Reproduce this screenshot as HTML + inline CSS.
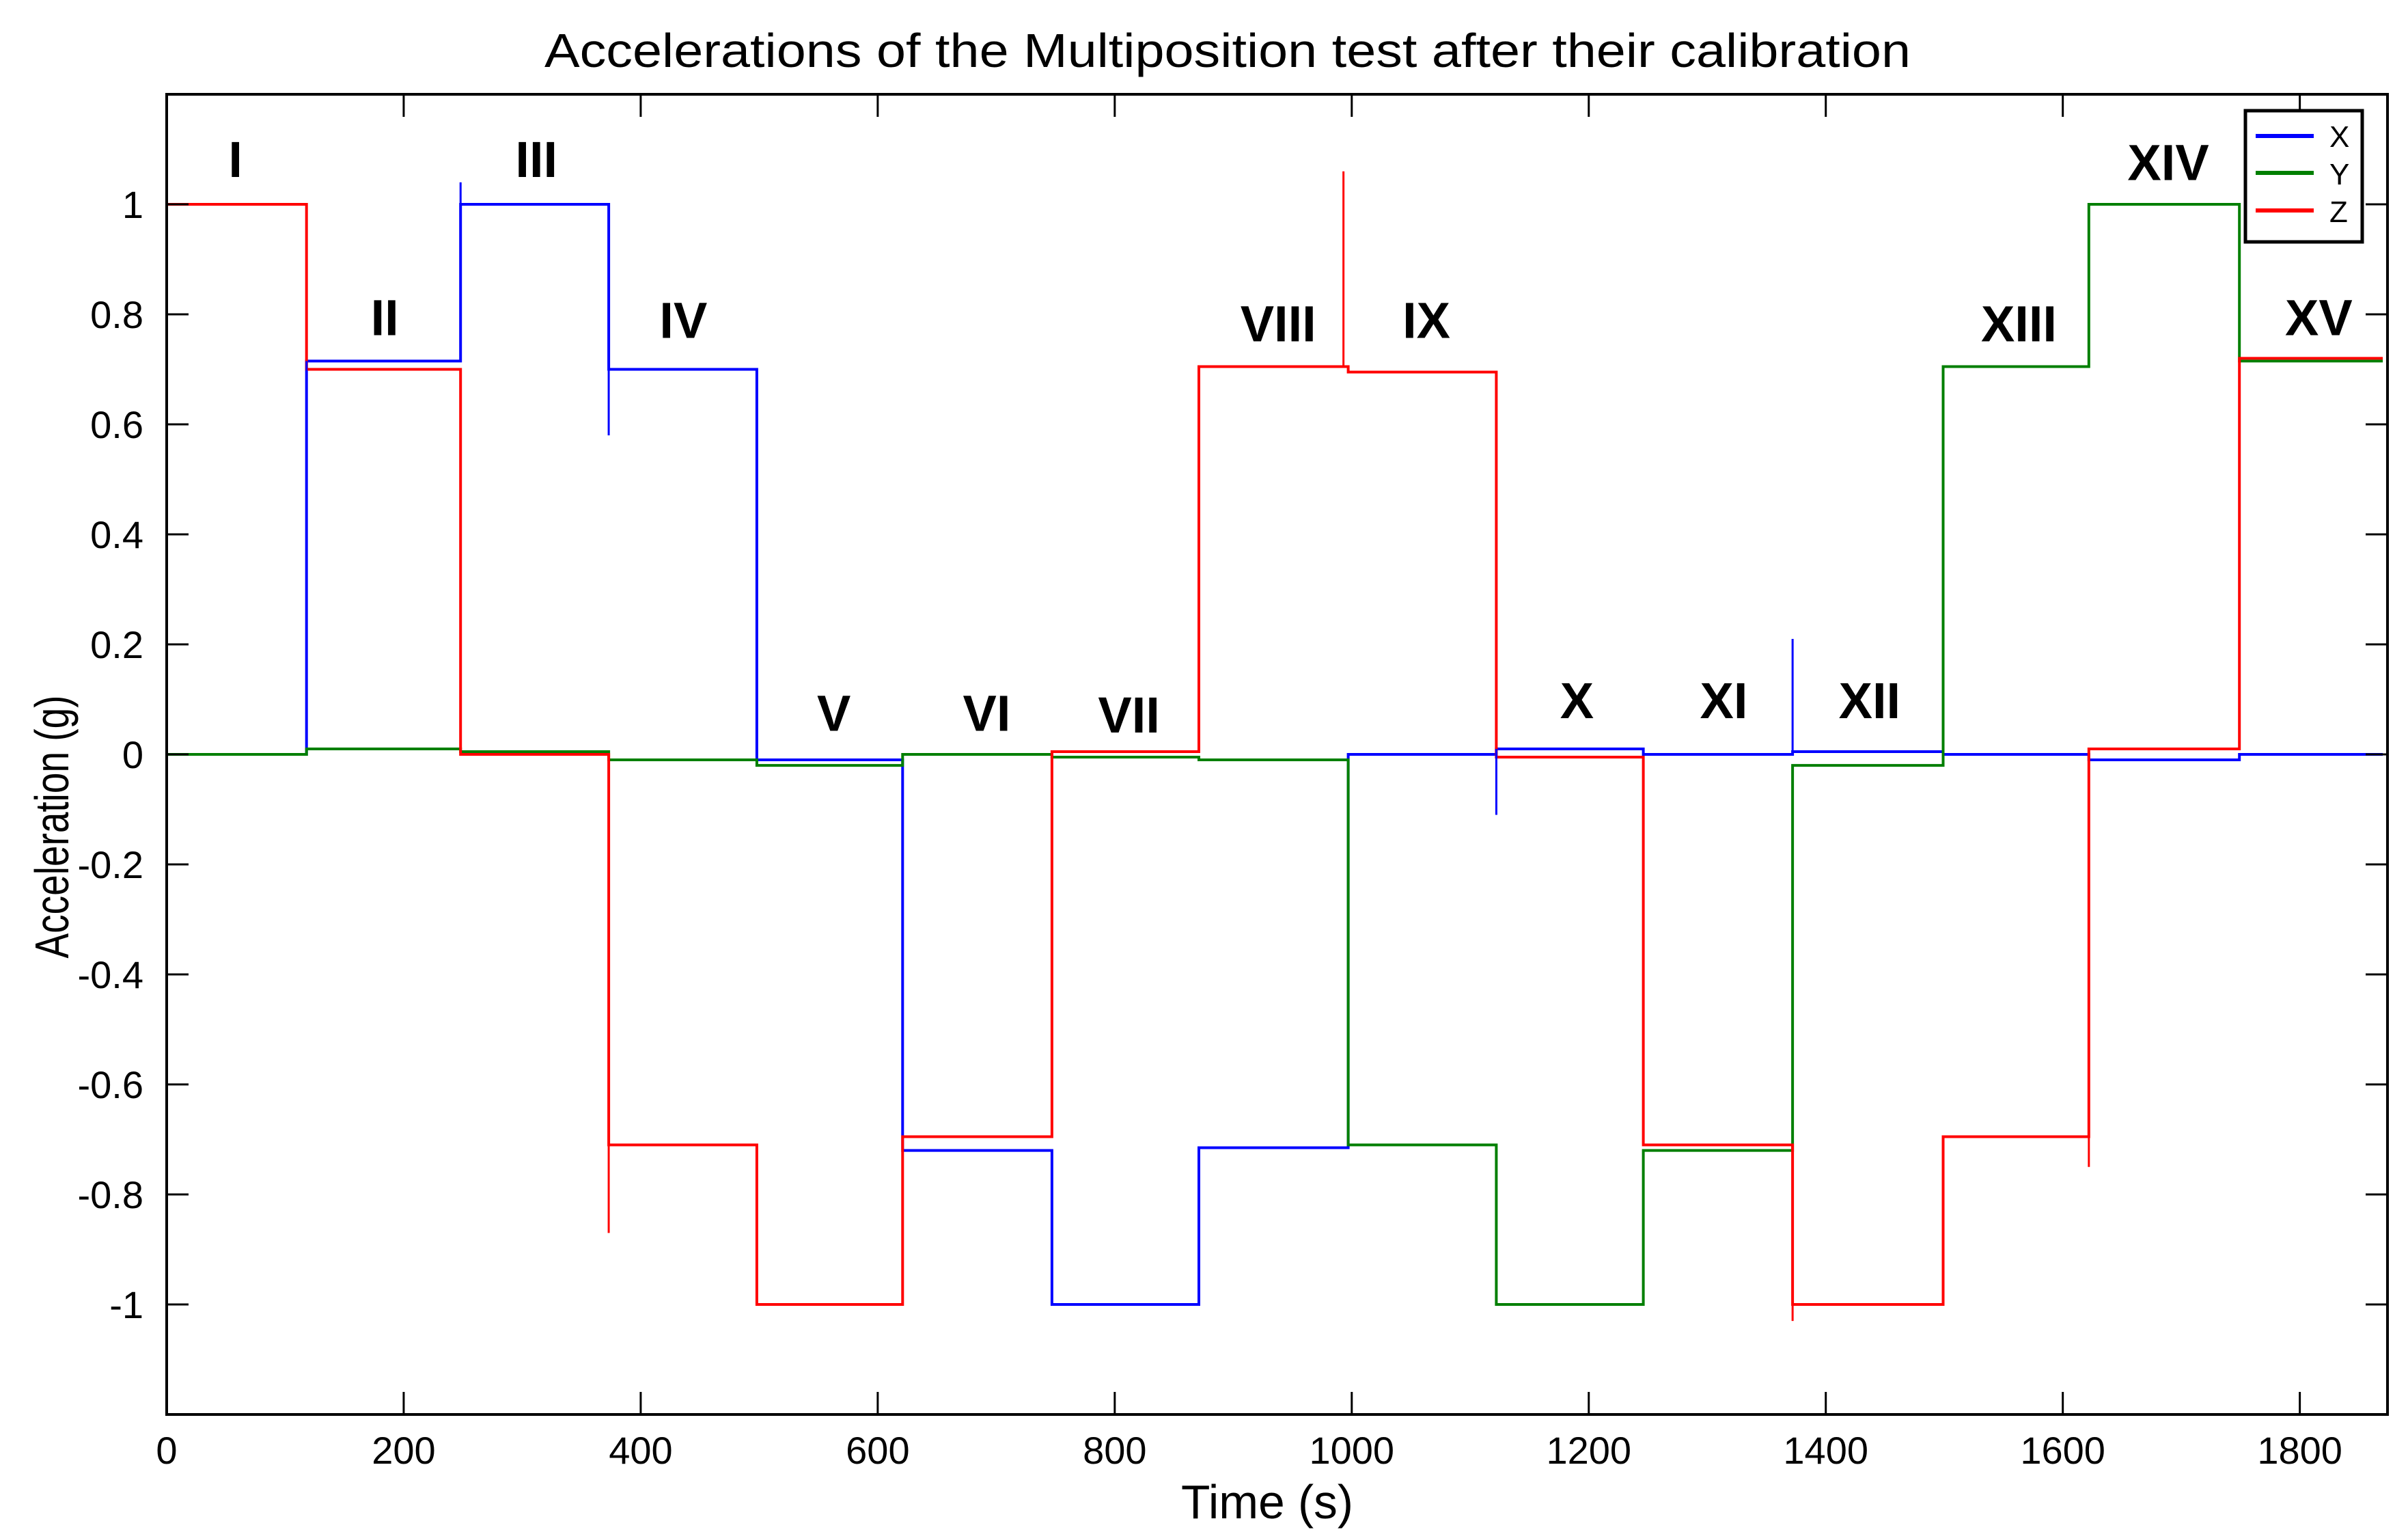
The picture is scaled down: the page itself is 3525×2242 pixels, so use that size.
<!DOCTYPE html>
<html><head><meta charset="utf-8"><style>html,body{margin:0;padding:0;background:#fff}svg{display:block}text{font-family:"Liberation Sans",Arial,sans-serif}</style></head>
<body>
<svg id="chart" width="3525" height="2242" viewBox="0 0 3525 2242" xmlns="http://www.w3.org/2000/svg">
<rect width="3525" height="2242" fill="#fff"/>
<text x="1797" y="98" font-size="70" text-anchor="middle" textLength="2000" lengthAdjust="spacingAndGlyphs">Accelerations of the Multiposition test after their calibration</text>
<text x="1855" y="2222" font-size="70" text-anchor="middle" textLength="252" lengthAdjust="spacingAndGlyphs">Time (s)</text>
<text x="0" y="0" font-size="70" text-anchor="middle" transform="translate(100,1210) rotate(-90)" textLength="385" lengthAdjust="spacingAndGlyphs">Acceleration (g)</text>
<g id="marks"></g>
<g id="axes"></g>
<g id="legend">
<rect x="3287" y="162" width="171" height="192" fill="#fff" stroke="#000" stroke-width="5"/>
<line x1="3302" y1="199" x2="3387" y2="199" stroke="#0000ff" stroke-width="6"/>
<line x1="3302" y1="253" x2="3387" y2="253" stroke="#007f00" stroke-width="6"/>
<line x1="3302" y1="308" x2="3387" y2="308" stroke="#ff0000" stroke-width="6"/>
<text x="3410" y="215" font-size="44">X</text>
<text x="3410" y="270" font-size="44">Y</text>
<text x="3410" y="325" font-size="44">Z</text>
</g>
</svg>
<script>
const boundaries = [0,118,248,373,498,621,747,871,997,1122,1246,1372,1499,1622,1749,1870];
const seriesX = [0,0.715,1.0,0.70,-0.01,-0.72,-1.0,-0.715,0.0,0.01,0.0,0.005,0.0,-0.01,0.0];
const seriesY = [0,0.01,0.005,-0.01,-0.02,0.0,-0.005,-0.01,-0.71,-1.0,-0.72,-0.02,0.705,1.0,0.715];
const seriesZ = [1.0,0.70,0.0,-0.71,-1.0,-0.695,0.005,0.705,0.695,-0.005,-0.71,-1.0,-0.695,0.01,0.72];
const spikeTimes = [118,248,373,373,993,1122,1372,1372,1622];
const spikeSeries = ['X','X','Z','X','Z','X','X','Z','Z'];
const spikeValues = [0.15,1.04,-0.87,0.58,1.06,-0.11,0.21,-1.03,-0.75];
const segmentLabels = ['I','II','III','IV','V','VI','VII','VIII','IX','X','XI','XII','XIII','XIV','XV'];
const labelTimes = [58,184,312,436,563,692,812,938,1063,1190,1314,1437,1563,1689,1816];
const labelValues = [1.05,0.762,1.05,0.757,0.043,0.043,0.04,0.751,0.757,0.066,0.066,0.066,0.751,1.044,0.762];
const xTicks = [0,200,400,600,800,1000,1200,1400,1600,1800];
const yTicks = [-1,-0.8,-0.6,-0.4,-0.2,0,0.2,0.4,0.6,0.8,1];
const yTickLabels = ['-1','-0.8','-0.6','-0.4','-0.2','0','0.2','0.4','0.6','0.8','1'];

const L=244, R=3495, T=138, B=2070, XMAX=1874, YMIN=-1.2, YMAX=1.2;
function sx(t){return L+(t/XMAX)*(R-L);}
function sy(v){return B-(v-YMIN)/(YMAX-YMIN)*(B-T);}
const NS='http://www.w3.org/2000/svg';
const marks=document.getElementById('marks');
const axes=document.getElementById('axes');
function mk(tag,attrs,parent){const e=document.createElementNS(NS,tag);for(const k in attrs)e.setAttribute(k,attrs[k]);parent.appendChild(e);return e;}

const colors={X:'#0000ff',Y:'#007f00',Z:'#ff0000'};
const all={X:seriesX,Y:seriesY,Z:seriesZ};
['X','Y','Z'].forEach(function(s){
  const vals=all[s];
  let d='';
  for(let i=0;i<vals.length;i++){
    d+=(i===0?'M':'L')+sx(boundaries[i]).toFixed(1)+','+sy(vals[i]).toFixed(1)+' L'+sx(boundaries[i+1]).toFixed(1)+','+sy(vals[i]).toFixed(1)+' ';
  }
  const p=mk('path',{d:d,fill:'none',stroke:colors[s],'stroke-width':4},marks);
  
  
});
for(let i=0;i<spikeTimes.length;i++){
  const s=spikeSeries[i];
  const vals=all[s];
  let k=0;while(k<boundaries.length-2&&boundaries[k+1]<=spikeTimes[i])k++;
  const base=vals[k];
  const ln=mk('line',{x1:sx(spikeTimes[i]),x2:sx(spikeTimes[i]),y1:sy(base),y2:sy(spikeValues[i]),stroke:colors[s],'stroke-width':3},marks);
  
  
}
for(let i=0;i<segmentLabels.length;i++){
  const t=mk('text',{x:sx(labelTimes[i]),y:sy(labelValues[i]),'font-size':74,'font-weight':'bold','text-anchor':'middle'},marks);
  t.textContent=segmentLabels[i];
  
  
}
const frame=mk('rect',{x:L,y:T,width:R-L,height:B-T,fill:'none',stroke:'#000','stroke-width':4},axes);


xTicks.forEach(function(v){
  const x=sx(v);
  mk('line',{x1:x,x2:x,y1:B,y2:B-33,stroke:'#000','stroke-width':3},axes);
  mk('line',{x1:x,x2:x,y1:T,y2:T+33,stroke:'#000','stroke-width':3},axes);
  const t=mk('text',{x:x,y:B+72,'font-size':56,'text-anchor':'middle'},axes);
  t.textContent=String(v);
  
  
});
yTicks.forEach(function(v,i){
  const y=sy(v);
  mk('line',{x1:L,x2:L+32,y1:y,y2:y,stroke:'#000','stroke-width':3},axes);
  mk('line',{x1:R,x2:R-32,y1:y,y2:y,stroke:'#000','stroke-width':3},axes);
  const t=mk('text',{x:210,y:y+20,'font-size':56,'text-anchor':'end'},axes);
  t.textContent=yTickLabels[i];
  
  
});
</script>
</body></html>
